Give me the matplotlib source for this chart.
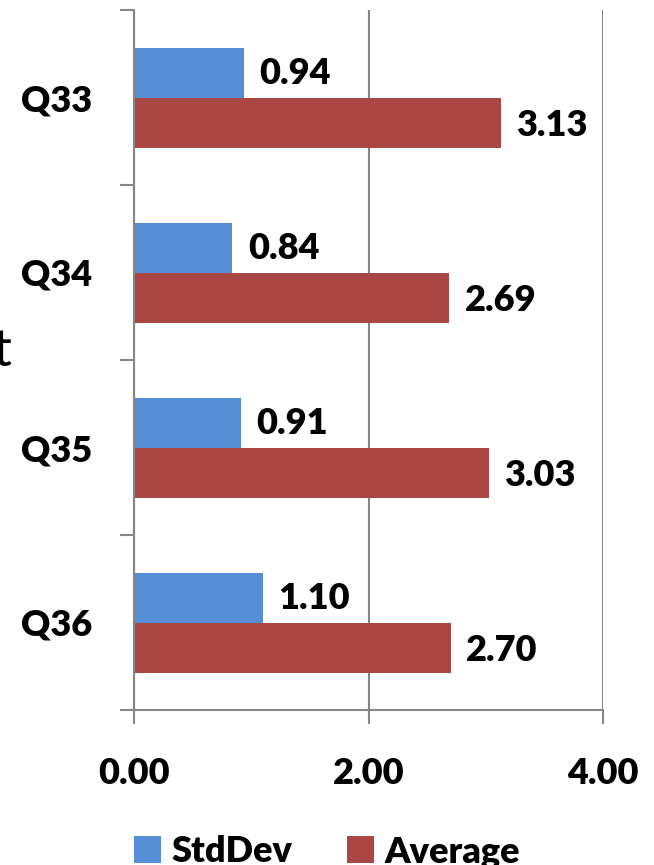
import numpy as np
import matplotlib.pyplot as plt

questions = ['Q33', 'Q34', 'Q35', 'Q36']
std_dev = [0.94, 0.84, 0.91, 1.10]
average = [3.13, 2.69, 3.03, 2.70]
x_ticks = [0, 2, 4]
x_tick_labels = ['0.00', '2.00', '4.00']

plt.rcParams['font.family'] = ['Lato', 'DejaVu Sans']

blue = '#558ed5'
red = '#aa4643'
grey = '#868686'
fs = 26
wt = 'heavy'

fig = plt.figure(figsize=(6.54, 8.65), dpi=100)
ax = fig.add_axes([134 / 654, 1 - 710 / 865, (603 - 134) / 654, 700 / 865])

pos = np.arange(len(questions))
h = 1 / 3.5
ax.barh(pos - h / 2, std_dev, height=h, color=blue, label='StdDev')
ax.barh(pos + h / 2, average, height=h, color=red, label='Average')

# value labels to the right of each bar
for p, v in zip(pos, std_dev):
    ax.annotate(f'{v:.2f}', (v, p - h / 2), xytext=(11, -1), textcoords='offset points',
                va='center', ha='left', fontsize=fs, fontweight=wt)
for p, v in zip(pos, average):
    ax.annotate(f'{v:.2f}', (v, p + h / 2), xytext=(11, -2), textcoords='offset points',
                va='center', ha='left', fontsize=fs, fontweight=wt)

ax.set_xlim(0, 4)
ax.set_ylim(len(questions) - 0.5, -0.5)
ax.set_xticks(x_ticks)
ax.set_xticklabels(x_tick_labels, fontsize=fs, fontweight=wt)
ax.set_yticks(np.arange(-0.5, len(questions), 1))
ax.set_yticklabels([])
ax.set_yticks(pos, minor=True)
ax.set_yticklabels(questions, minor=True, fontsize=fs, fontweight=wt)
ax.tick_params(axis='y', which='minor', length=0, pad=30)
ax.tick_params(axis='both', which='major', length=10, width=1.5, color=grey)
ax.tick_params(axis='x', pad=24)

ax.xaxis.grid(True, color=grey, linewidth=1.5)
ax.set_axisbelow(True)
for side in ['top', 'right']:
    ax.spines[side].set_visible(False)
for side in ['left', 'bottom']:
    ax.spines[side].set_color(grey)
    ax.spines[side].set_linewidth(1.5)

fig.text(12 / 654, 1 - 352 / 865, 't', ha='right', va='center', fontsize=38)

fig.legend(loc='center', bbox_to_anchor=(0.5, 1 - 852 / 865), ncol=2, frameon=False,
           handlelength=0.75, handleheight=0.75, handletextpad=0.3,
           columnspacing=1.5, prop={'weight': wt, 'size': fs})

fig.savefig('out.png', dpi=100)
